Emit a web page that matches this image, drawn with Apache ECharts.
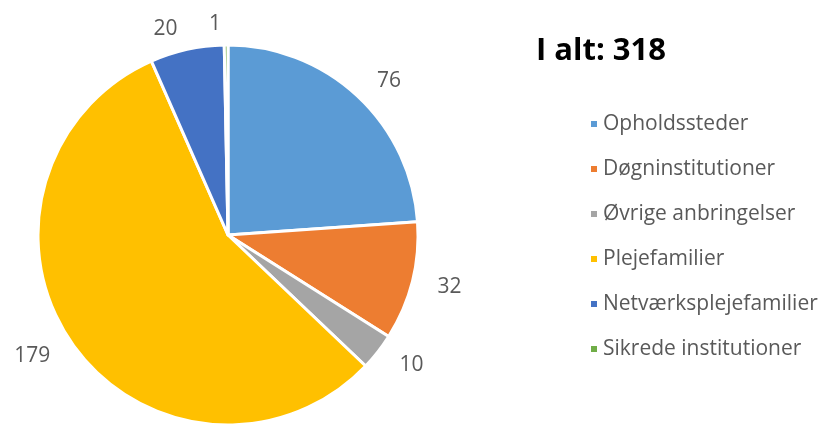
<!DOCTYPE html>
<html>
<head>
<meta charset="utf-8">
<script src="https://cdn.jsdelivr.net/npm/echarts@6/dist/echarts.min.js"></script>
<style>
html, body { margin: 0; padding: 0; background: #fff; }
#chart { width: 823px; height: 425px; }
</style>
</head>
<body>
<div id="chart"></div>
<script>
var kategorier = ['Opholdssteder', 'Døgninstitutioner', 'Øvrige anbringelser', 'Plejefamilier', 'Netværksplejefamilier', 'Sikrede institutioner']
var antal = [76, 32, 10, 179, 20, 1]
var farver = ['#5B9BD5', '#ED7D31', '#A5A5A5', '#FFC000', '#4472C4', '#70AD47']

var total = antal.reduce(function (a, b) { return a + b }, 0)

var mychart = echarts.init(document.getElementById('chart'))
mychart.setOption({
    animation: false,
    color: farver,
    title: {
        text: 'I alt: ' + total,
        left: 531,
        top: 31,
        textStyle: { fontFamily: 'Open Sans', fontWeight: 'bold', fontSize: 31, color: '#000' }
    },
    legend: {
        orient: 'vertical',
        left: 584,
        top: 108,
        icon: 'rect',
        itemWidth: 8,
        itemHeight: 8,
        itemGap: 23,
        data: kategorier,
        textStyle: { fontFamily: 'Open Sans', fontSize: 21, color: '#595959', lineHeight: 22 }
    },
    series: [{
        type: 'pie',
        center: [228, 235],
        radius: 190,
        avoidLabelOverlap: false,
        itemStyle: { borderColor: '#fff', borderWidth: 3 },
        label: {
            show: true,
            position: 'outside',
            formatter: '{c}',
            fontFamily: 'Open Sans',
            fontSize: 21,
            color: '#595959'
        },
        labelLine: { show: false, length: 21, length2: 0 },
        data: kategorier.map(function (k, i) { return { name: k, value: antal[i] } })
    }]
})
</script>
</body>
</html>
